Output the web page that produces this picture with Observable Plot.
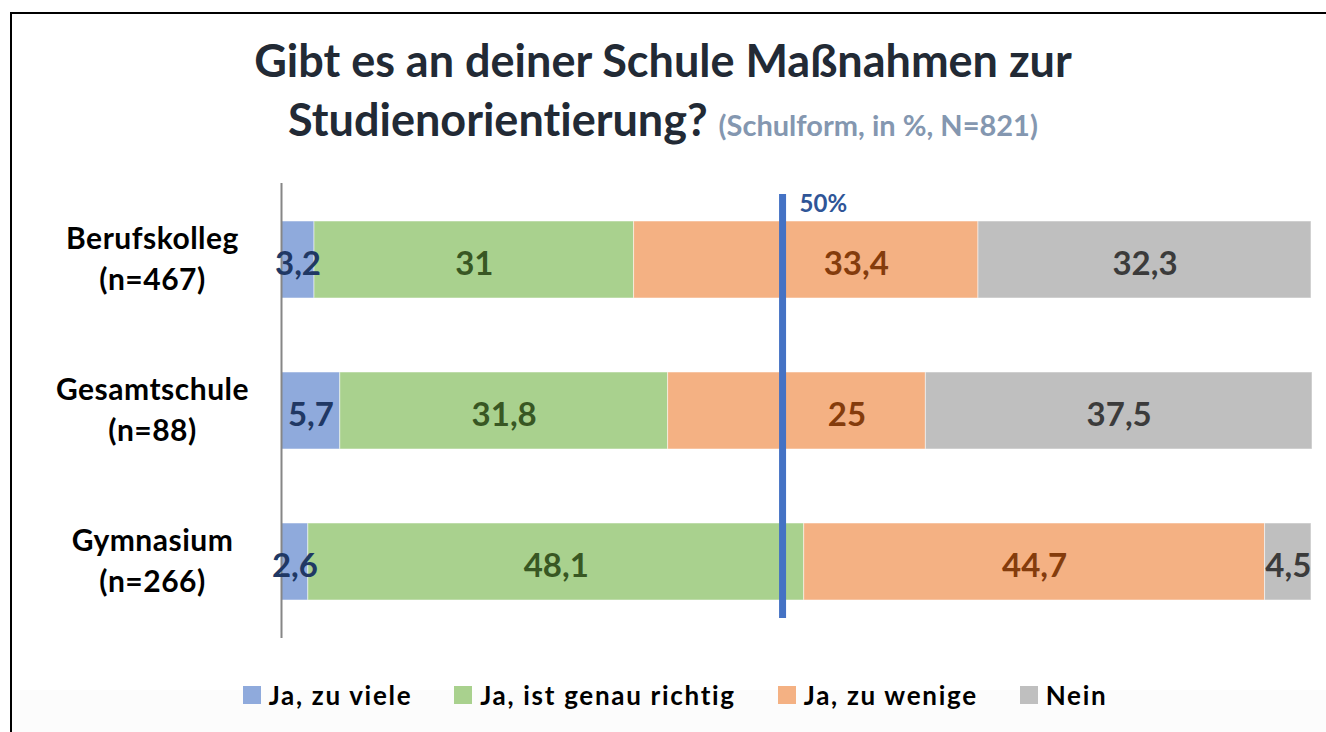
<!DOCTYPE html>
<html>
<head>
<meta charset="utf-8">
<script src="https://cdn.jsdelivr.net/npm/d3@7"></script>
<script src="https://cdn.jsdelivr.net/npm/@observablehq/plot@0.6"></script>
<style>
  html, body { margin: 0; padding: 0; background: #fff; }
  body { width: 1326px; height: 732px; overflow: hidden; position: relative; font-family: Lato, "Open Sans", sans-serif; font-variant-ligatures: none; }
  #frame { position: absolute; left: 10px; top: 12px; right: -20px; bottom: -20px; border-left: 2px solid #000; border-top: 2px solid #000; }
  #bottomShade { position: absolute; left: 12px; right: 0; top: 690px; bottom: 0; background: #fcfcfc; }
  #content { position: absolute; left: 0; top: 0; width: 1326px; }
  #title { height: 170px; box-sizing: border-box; padding-top: 31px; text-align: center; font-weight: 700; font-size: 45px; line-height: 59px; color: #222a35; }
  #title .sub { font-size: 29px; color: #8497b0; }
  #chart svg { display: block; font-variant-ligatures: none; }
  #legend { display: flex; justify-content: center; align-items: center; padding-top: 30px; height: 30px; font-weight: 700; font-size: 26px; letter-spacing: 1.7px; color: #000; padding-left: 24px; }
  #legend .item { display: flex; align-items: center; margin: 0 21px; }
  #legend .sw { width: 18px; height: 18px; margin-right: 8px; }
</style>
</head>
<body>
<div id="bottomShade"></div>
<div id="frame"></div>
<div id="content">
  <div id="title">Gibt es an deiner Schule Maßnahmen zur<br>Studienorientierung? <span class="sub">(Schulform, in %, N=821)</span></div>
  <div id="chart"></div>
  <div id="legend"></div>
</div>
<script>
const schools = ["Berufskolleg", "Gesamtschule", "Gymnasium"];
const schoolN = ["(n=467)", "(n=88)", "(n=266)"];
const categories = ["Ja, zu viele", "Ja, ist genau richtig", "Ja, zu wenige", "Nein"];
const zuViele = [3.2, 5.7, 2.6];
const genauRichtig = [31, 31.8, 48.1];
const zuWenige = [33.4, 25, 44.7];
const nein = [32.3, 37.5, 4.5];
const barColors = ["#8faadc", "#a9d18e", "#f4b183", "#bfbfbf"];
const labelColors = ["#203864", "#385723", "#843c0c", "#3b3b3b"];
const refValue = 48.6;
const refLabel = "50%";

const series = [zuViele, genauRichtig, zuWenige, nein];
const data = [];
schools.forEach((s, i) => {
  categories.forEach((c, j) => {
    data.push({ school: s, cat: c, ci: j, value: series[j][i] });
  });
});
const fmt = v => String(v).replace(".", ",");
const labelOf = Object.fromEntries(schools.map((s, i) => [s, s + "\n" + schoolN[i]]));

// Labels whose segment midpoint sits near the reference line are nudged right
const starts = {};
data.forEach(d => {
  starts[d.school] = starts[d.school] || 0;
  d.mid = starts[d.school] + d.value / 2;
  starts[d.school] += d.value;
  d.nearRef = Math.abs(d.mid - refValue) < 4;
});

const stackOpts = { x: "value", y: "school", z: "cat", order: categories };
const textOpts = (pick, extra) => Plot.stackX({
  ...stackOpts,
  text: d => pick(d) ? fmt(d.value) : null,
  fill: d => labelColors[d.ci],
  fontSize: 33,
  fontWeight: "bold",
  dy: 4,
  ...extra
});

const chart = Plot.plot({
  width: 1326,
  height: 480,
  marginTop: 13,
  marginBottom: 12,
  marginLeft: 281,
  marginRight: 14,
  style: { fontFamily: "Lato, 'Open Sans', sans-serif", background: "transparent" },
  x: { domain: [0, 100], axis: null },
  y: { domain: schools, paddingInner: 0.49, paddingOuter: 0.245, axis: null },
  color: { type: "identity" },
  marks: [
    Plot.barX(data, Plot.stackX({ ...stackOpts, fill: d => barColors[d.ci], stroke: "#ffffff", strokeOpacity: 0.5, strokeWidth: 1 })),
    Plot.axisY({ label: null, tickSize: 0, tickPadding: 129, textAnchor: "middle", fontSize: 30, fontWeight: "bold", lineHeight: 1.37, dy: -4, fill: "#000", tickFormat: d => labelOf[d] }),
    Plot.ruleX([0], { stroke: "#868686", strokeWidth: 2 }),
    Plot.ruleX([refValue], { stroke: "#4472c4", strokeWidth: 7, insetTop: 11, insetBottom: 20 }),
    Plot.text([refLabel], { x: refValue, frameAnchor: "top", lineAnchor: "top", textAnchor: "start", dx: 17, dy: 11, text: d => d, fill: "#2f5597", fontSize: 24, fontWeight: "bold" }),
    Plot.text(data, textOpts(d => !d.nearRef, {})),
    Plot.text(data, textOpts(d => d.nearRef, { dx: 50 }))
  ]
});
chart.querySelectorAll("g[aria-label='y-axis tick label'] text, g[aria-label='y-axis tick label']").forEach(el => el.style.letterSpacing = "0.5px");
document.getElementById("chart").appendChild(chart);

const legend = document.getElementById("legend");
categories.forEach((c, j) => {
  const item = document.createElement("div");
  item.className = "item";
  const sw = document.createElement("span");
  sw.className = "sw";
  sw.style.background = barColors[j];
  const tx = document.createElement("span");
  tx.textContent = c;
  item.appendChild(sw);
  item.appendChild(tx);
  legend.appendChild(item);
});
</script>
</body>
</html>
